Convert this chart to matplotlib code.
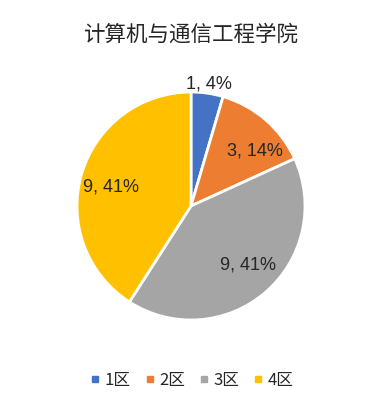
import matplotlib
matplotlib.use("Agg")
import matplotlib.pyplot as plt
from matplotlib.lines import Line2D
import numpy as np

plt.rcParams['font.family'] = ['Noto Sans CJK SC', 'DejaVu Sans']

title = "计算机与通信工程学院"
categories = ["1区", "2区", "3区", "4区"]
values = [1, 3, 9, 9]
pct_labels = ["4%", "14%", "41%", "41%"]
colors = ["#4472C4", "#ED7D31", "#A5A5A5", "#FFC000"]

fig = plt.figure(figsize=(3.82, 4.08), dpi=100)
fig.patch.set_facecolor("white")

cx, cy = 191 / 382, 1 - 206 / 408
rw, rh = 114 / 382, 114 / 408
ax = fig.add_axes([cx - rw, cy - rh, 2 * rw, 2 * rh])

wedges, _ = ax.pie(values, colors=colors, startangle=90, counterclock=False,
                   wedgeprops=dict(edgecolor="white", linewidth=2))
ax.set_xlim(-1, 1)
ax.set_ylim(-1, 1)
ax.set_aspect("equal")

label_r = [1.08, 0.74, 0.72, 0.72]
label_shift = [0, -8, 3, 3]  # degrees
for i, w in enumerate(wedges):
    mid = np.deg2rad((w.theta1 + w.theta2) / 2 + label_shift[i])
    r = label_r[i]
    ax.text(r * np.cos(mid), r * np.sin(mid), f"{values[i]}, {pct_labels[i]}",
            ha="center", va="center", fontsize=13, color="#262626",
            family=["Liberation Sans", "DejaVu Sans"], clip_on=False)

fig.text(0.5, 1 - 35 / 408, title, ha="center", va="center", fontsize=15.5, color="#262626")

handles = [Line2D([], [], marker="s", linestyle="none", markersize=5,
                  markerfacecolor=c, markeredgecolor=c) for c in colors]
fig.legend(handles, categories, loc="center", bbox_to_anchor=(0.5, 1 - 380 / 408),
           ncol=4, frameon=False, fontsize=12, handletextpad=0.15, columnspacing=0.75,
           handlelength=0.8, labelcolor="#262626")

fig.savefig("out.png", dpi=100, facecolor="white")
